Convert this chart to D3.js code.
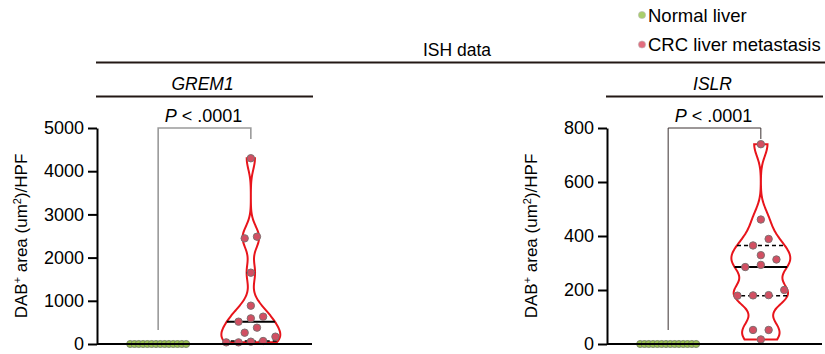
<!DOCTYPE html>
<html>
<head>
<meta charset="utf-8">
<script src="https://cdn.jsdelivr.net/npm/d3@7"></script>
<style>
  body { margin: 0; background: #fff; }
  svg { font-family: "Liberation Sans", Arial, sans-serif; }
</style>
</head>
<body>
<div id="chart"></div>
<script>
// data
var groups = ["Normal liver", "CRC liver metastasis"];
var genes = ["GREM1", "ISLR"];
var pLabel = ".0001";

var grem1Normal = [0, 0, 0, 0, 0, 0, 0, 0, 0, 0, 0, 0, 0, 0];
var grem1Crc = [4300, 2484, 2446, 1651, 887, 633, 594, 517, 378, 262, 170, 69, 54, 38, 38];
var grem1Ticks = [0, 1000, 2000, 3000, 4000, 5000];

var islrNormal = [0, 0, 0, 0, 0, 0, 0, 0, 0, 0, 0, 0, 0, 0];
var islrCrc = [740, 461, 389, 365, 329, 313, 293, 285, 200, 181, 180, 179, 52, 52, 17];
var islrTicks = [0, 200, 400, 600, 800];

var width = 825, height = 354;
var svg = d3.select("#chart").append("svg")
  .attr("width", width)
  .attr("height", height);

var ink = "#231815";
var red = "#e8141b";

// header
svg.append("text")
  .attr("x", 457).attr("y", 55.5)
  .attr("text-anchor", "middle")
  .style("font-size", "17.5px")
  .text("ISH data");
svg.append("line")
  .attr("x1", 96).attr("x2", 825)
  .attr("y1", 62.5).attr("y2", 62.5)
  .style("stroke", ink).style("stroke-width", 2);

// legend
var legendColors = ["#a9ce6a", "#e26d7d"];
var legend = svg.append("g")
  .selectAll("g")
  .data(groups)
  .enter()
  .append("g")
  .attr("transform", (d, i) => "translate(642," + (15 + i * 29.5) + ")");
legend.append("circle")
  .attr("r", 3.6)
  .style("fill", (d, i) => legendColors[i])
  .style("stroke", "#bbb")
  .style("stroke-width", 0.6);
legend.append("text")
  .attr("x", 6).attr("y", 6.5)
  .style("font-size", "18.5px")
  .text((d) => d);

function gauss(u) {
  return Math.exp(-0.5 * u * u);
}

function quant(sorted, p) {
  var h = (sorted.length + 1) * p - 1;
  var lo = Math.floor(h);
  if (lo >= sorted.length - 1) return sorted[sorted.length - 1];
  return sorted[lo] + (h - lo) * (sorted[lo + 1] - sorted[lo]);
}

// rows of dots like GraphPad scatter
function swarm(values, y, cx, spacing) {
  var sorted = values.slice().sort(d3.ascending);
  var rows = [];
  var cur = null;
  sorted.forEach(function (v) {
    var py = y(v);
    if (!cur || cur.y0 - py > 8) {
      cur = { y0: py, items: [] };
      rows.push(cur);
    }
    cur.items.push(v);
  });
  var out = [];
  rows.forEach(function (r) {
    var n = r.items.length;
    var s = n > 1 ? Math.min(spacing, 56 / (n - 1)) : 0;
    r.items.forEach(function (v, i) {
      out.push({ v: v, x: cx + (i - (n - 1) / 2) * s, y: y(v) });
    });
  });
  return out;
}

function createPanel(gene, normal, crc, ticks, x0, x1, spacing, bracketColor, bracketWidth) {
  var top = 128, bottom = 344;
  var x = d3.scalePoint().domain(groups).range([x0, x1]).padding(0.66);
  var y = d3.scaleLinear().domain([0, ticks[ticks.length - 1]]).range([bottom, top]);
  var g = svg.append("g");
  var cN = x(groups[0]), cC = x(groups[1]);

  // gene title
  g.append("text")
    .attr("x", (x0 + x1) / 2 - 2).attr("y", 90)
    .attr("text-anchor", "middle")
    .style("font-size", "17.5px")
    .style("font-style", "italic")
    .text(gene);
  g.append("line")
    .attr("x1", x0 - 1).attr("x2", x1 + 1)
    .attr("y1", 96.5).attr("y2", 96.5)
    .style("stroke", ink).style("stroke-width", 2);

  // p value bracket
  var pt = g.append("text")
    .attr("x", (cN + cC) / 2 - 1).attr("y", 121.5)
    .attr("text-anchor", "middle")
    .style("font-size", "18px");
  pt.append("tspan").style("font-style", "italic").text("P");
  pt.append("tspan").text(" < " + pLabel);
  g.append("path")
    .attr("d", "M" + cN + ",330V" + top + "H" + cC + "V" + (top + 11))
    .style("fill", "none")
    .style("stroke", bracketColor)
    .style("stroke-width", bracketWidth);

  // violin
  var sorted = crc.slice().sort(d3.ascending);
  var lo = sorted[0], hi = sorted[sorted.length - 1];
  var bw = 0.06 * (hi - lo);
  var dens = (v) => d3.mean(crc, (d) => gauss((v - d) / bw));
  var grid = d3.range(121).map((i) => lo + ((hi - lo) * i) / 120);
  var curve = grid.map((v) => ({ v: v, d: dens(v) }));
  var w = d3.scaleLinear().domain([0, d3.max(curve, (d) => d.d)]).range([0, 29.5]);
  var area = d3.area()
    .y((d) => y(d.v))
    .x0((d) => cC - w(d.d))
    .x1((d) => cC + w(d.d))
    .curve(d3.curveBasis);
  g.append("path")
    .datum(curve)
    .attr("d", area)
    .style("fill", "none")
    .style("stroke", red)
    .style("stroke-width", 2);

  // median and quartiles
  [0.25, 0.5, 0.75].forEach(function (p) {
    var v = quant(sorted, p);
    var hw = w(dens(v));
    g.append("line")
      .attr("x1", cC - hw).attr("x2", cC + hw)
      .attr("y1", y(v)).attr("y2", y(v))
      .style("stroke", "#000")
      .style("stroke-width", p == 0.5 ? 2 : 1.5)
      .style("stroke-dasharray", p == 0.5 ? null : "4,3");
  });

  // dots
  g.append("g")
    .selectAll("circle")
    .data(swarm(normal, y, cN, spacing))
    .enter()
    .append("circle")
    .attr("cx", (d) => d.x).attr("cy", (d) => d.y)
    .attr("r", 3.5)
    .style("fill", "#9cc44f")
    .style("stroke", "#7b8868")
    .style("stroke-width", 1);
  g.append("g")
    .selectAll("circle")
    .data(swarm(crc, y, cC, spacing))
    .enter()
    .append("circle")
    .attr("cx", (d) => d.x).attr("cy", (d) => d.y)
    .attr("r", 3.7)
    .style("fill", "#d24f62")
    .style("stroke", "#7d6f70")
    .style("stroke-width", 1);

  // axes
  var ax = g.append("g")
    .attr("transform", "translate(" + x0 + ",0)")
    .call(d3.axisLeft(y).tickValues(ticks).tickFormat(d3.format("d"))
      .tickSize(9).tickPadding(4).tickSizeOuter(0));
  ax.attr("font-family", null).attr("font-size", null);
  ax.selectAll("path, line").style("stroke", "#000").style("stroke-width", 2);
  ax.selectAll("text").style("font-size", "18px").style("fill", "#000");
  g.append("line")
    .attr("x1", x0).attr("x2", x1)
    .attr("y1", bottom).attr("y2", bottom)
    .style("stroke", "#000").style("stroke-width", 2);

  // y label
  var yl = g.append("text")
    .attr("transform", "translate(" + (x0 - 70) + "," + (top + bottom) / 2 + ") rotate(-90)")
    .attr("text-anchor", "middle")
    .style("font-size", "17px");
  yl.append("tspan").text("DAB");
  yl.append("tspan").attr("dy", -6).style("font-size", "11px").text("+");
  yl.append("tspan").attr("dy", 6).text(" area (um");
  yl.append("tspan").attr("dy", -6).style("font-size", "11px").text("2");
  yl.append("tspan").attr("dy", 6).text(")/HPF");
}

createPanel(genes[0], grem1Normal, grem1Crc, grem1Ticks, 97, 312, 12.3, "#9a9a9a", 1.6);
createPanel(genes[1], islrNormal, islrCrc, islrTicks, 607, 822, 15.6, "#3b3131", 1);
</script>
</body>
</html>
